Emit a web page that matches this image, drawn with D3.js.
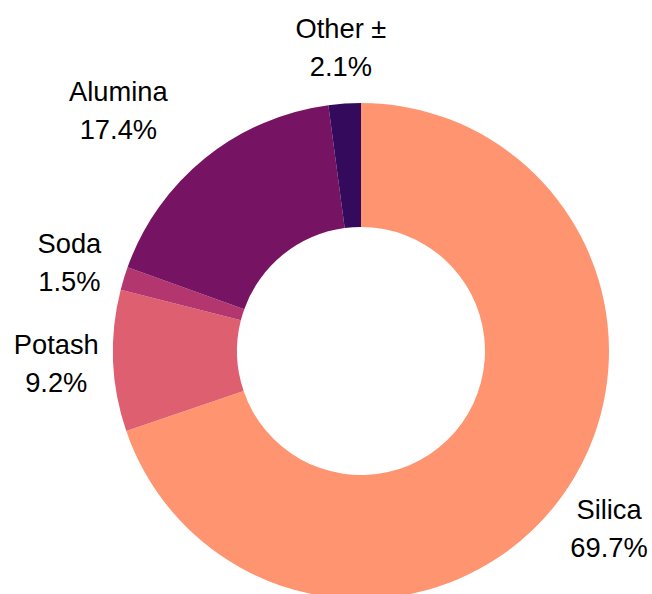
<!DOCTYPE html>
<html>
<head>
<meta charset="utf-8">
<script src="https://cdn.jsdelivr.net/npm/d3@7"></script>
<style>
  body { margin: 0; background: #fff; }
  text { font-family: "Liberation Sans", Arial, sans-serif; }
</style>
</head>
<body>
<div id="chart"></div>
<script>
// data
var labels = ['Silica', 'Potash', 'Soda', 'Alumina', 'Other \u00b1'];
var values = [69.7, 9.2, 1.5, 17.4, 2.1];
var colors = ['#fe9470', '#de6070', '#b3366e', '#761463', '#340a5c'];

var svgWidth = 652;
var svgHeight = 594;

var cx = 361, cy = 351;
var outerR = 248;
var innerR = 124;
var labelR = 305;

// small nudges so labels don't crowd each other
var labelNudge = { 'Alumina': [-51, -4] };

var svg = d3.select('#chart')
    .append('svg')
    .attr('width', svgWidth)
    .attr('height', svgHeight);

var chartGroup = svg.append('g')
    .attr('transform', `translate(${cx}, ${cy})`);

var data = labels.map((l, i) => ({ label: l, value: values[i], color: colors[i] }));

var pie = d3.pie()
    .value(d => d.value)
    .sort(null);

var arc = d3.arc()
    .innerRadius(innerR)
    .outerRadius(outerR);

var labelArc = d3.arc()
    .innerRadius(labelR)
    .outerRadius(labelR);

var arcs = pie(data);

chartGroup.selectAll('path')
    .data(arcs)
    .enter()
    .append('path')
    .attr('d', arc)
    .attr('fill', d => d.data.color);

var labelGroups = chartGroup.selectAll('.slice-label')
    .data(arcs)
    .enter()
    .append('text')
    .attr('class', 'slice-label')
    .attr('text-anchor', 'middle')
    .attr('font-size', 27.3)
    .attr('fill', '#000')
    .attr('transform', function (d) {
        var p = labelArc.centroid(d);
        var key = d.data.label.split(' ')[0];
        var n = labelNudge[key] || [0, 0];
        return `translate(${p[0] + n[0]}, ${p[1] + n[1]})`;
    });

labelGroups.append('tspan')
    .attr('x', 0)
    .attr('y', -9)
    .text(d => d.data.label);

labelGroups.append('tspan')
    .attr('x', 0)
    .attr('y', 29)
    .text(d => d.data.value.toFixed(1) + '%');
</script>
</body>
</html>
